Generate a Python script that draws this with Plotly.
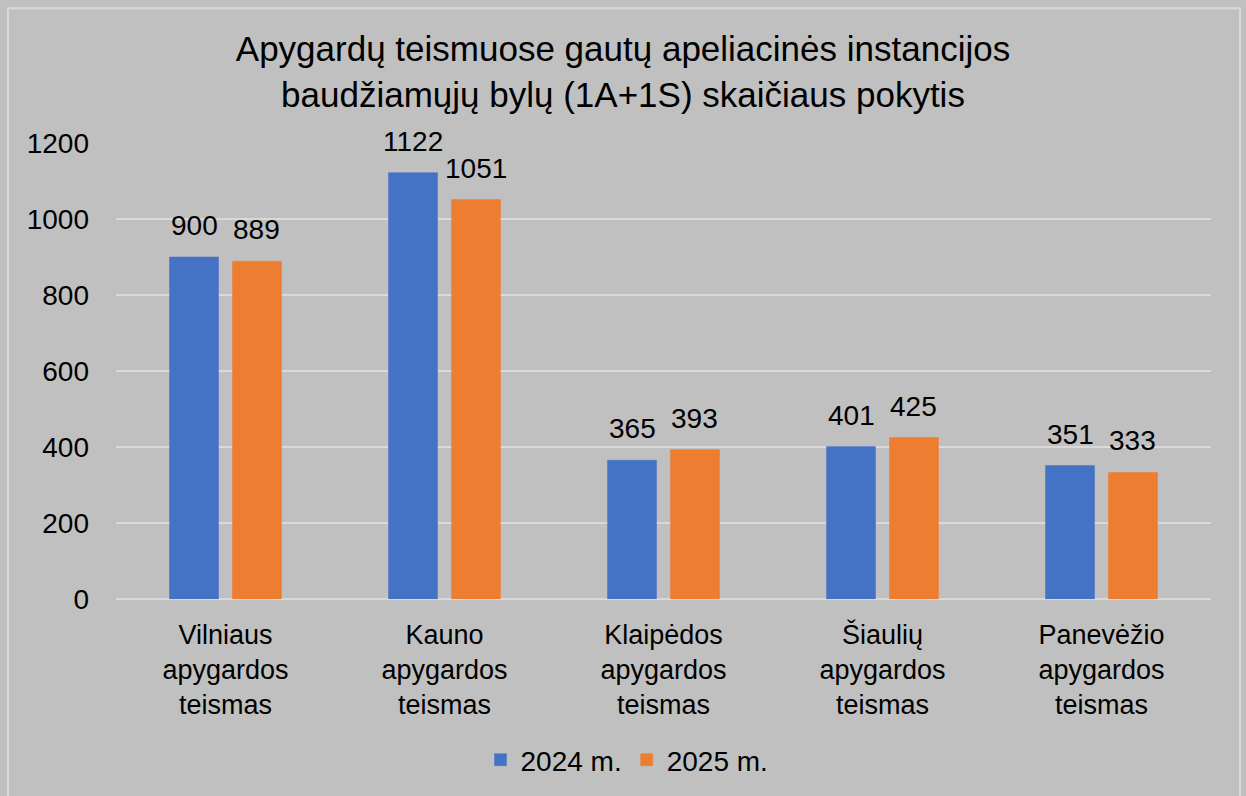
import plotly.graph_objects as go

categories = ["Vilniaus<br>apygardos<br>teismas", "Kauno<br>apygardos<br>teismas",
              "Klaipėdos<br>apygardos<br>teismas", "Šiaulių<br>apygardos<br>teismas",
              "Panevėžio<br>apygardos<br>teismas"]
values_2024 = [900, 1122, 365, 401, 351]
values_2025 = [889, 1051, 393, 425, 333]
series_names = ["2024 m.", "2025 m."]
title_text = "Apygardų teismuose gautų apeliacinės instancijos<br>baudžiamųjų bylų (1A+1S) skaičiaus pokytis"

FONT = "Liberation Sans, Arial, sans-serif"
BG = "#c0c0c0"
GRID = "#d9d9d9"

W, H = 1246, 796
L, R, T, B = 116, 35, 143, 196
pw, ph = W - L - R, H - T - B
BARGAP, GROUPGAP = 0.425, 0.222
slot = pw / len(categories) * (1 - BARGAP) / 2

def px(x):
    return (x - L) / pw

def py(y):
    return (H - B - y) / ph

fig = go.Figure()
annotations = []
series = [(series_names[0], values_2024, "#4472C4", -1),
          (series_names[1], values_2025, "#ED7D31", 1)]
for name, vals, col, side in series:
    fig.add_trace(go.Bar(
        x=categories, y=vals, name=name,
        marker=dict(color=col, line=dict(color=col, width=0.5)),
    ))
    for c, v in zip(categories, vals):
        annotations.append(dict(x=c, y=v, xref="x", yref="y", text=str(v), showarrow=False,
                                xshift=side * slot / 2, yshift=14, yanchor="bottom",
                                font=dict(family=FONT, size=28, color="#000000")))

fig.update_layout(
    width=W, height=H,
    margin=dict(l=L, r=R, t=T, b=B),
    paper_bgcolor=BG, plot_bgcolor=BG,
    font=dict(family=FONT, size=27, color="#000000"),
    barmode="group", bargap=BARGAP, bargroupgap=GROUPGAP,
    title=dict(text=title_text, x=0.5, xanchor="center", y=1 - 61 / H, yanchor="middle",
               font=dict(family=FONT, size=35, color="#000000")),
    showlegend=True,
    legend=dict(orientation="h", x=px(627), xanchor="center", y=py(760), yanchor="middle",
                font=dict(family=FONT, size=28), bgcolor="rgba(0,0,0,0)", itemwidth=30),
    xaxis=dict(showgrid=False, showline=False, ticks="", ticklabelstandoff=17,
               tickfont=dict(family=FONT, size=27)),
    yaxis=dict(range=[0, 1200], dtick=200, showgrid=True, gridcolor=GRID, gridwidth=2,
               zeroline=True, zerolinecolor=GRID, zerolinewidth=2, showline=False,
               ticks="", ticklabelstandoff=26, tickfont=dict(family=FONT, size=28)),
    annotations=annotations,
    shapes=[dict(type="rect", xref="paper", yref="paper",
                 x0=px(8), x1=px(1240), y0=py(810), y1=py(8),
                 line=dict(color=GRID, width=2), fillcolor="rgba(0,0,0,0)", layer="below")],
)

fig.write_html("out.html", config={"displayModeBar": False},
               post_script="document.body.style.margin='0';document.body.style.overflow='hidden';")
